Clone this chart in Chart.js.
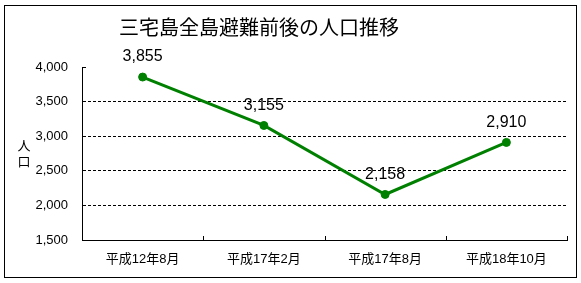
<!DOCTYPE html>
<html lang="ja">
<head>
<meta charset="utf-8">
<title>三宅島全島避難前後の人口推移</title>
<script src="https://cdn.jsdelivr.net/npm/chart.js@4.4.1/dist/chart.umd.min.js"></script>
<style>
    html, body { margin: 0; padding: 0; background: #fff; }
    #wrap { width: 581px; height: 283px; position: relative; }
</style>
</head>
<body>
<div id="wrap"><canvas id="populationChart"></canvas></div>
<script>
const chartTitle = '三宅島全島避難前後の人口推移';
const axisTitle = ['人', '口'];
const periods = ['平成12年8月', '平成17年2月', '平成17年8月', '平成18年10月'];
const population = [3855, 3155, 2158, 2910];
const yTicks = [1500, 2000, 2500, 3000, 3500, 4000];

const fontLatin = '"Liberation Sans", "Noto Sans CJK JP", sans-serif';
const fontJp = '"Noto Sans CJK JP", "Liberation Sans", sans-serif';

var Population = {
    s: {
        canvas: document.getElementById('populationChart')
    },

    init: function () {
        Population.buildChart();
    },

    format: function (v) {
        return Number(v).toLocaleString('en-US');
    },

    // frame, title and the stacked y axis title
    framePlugin: {
        id: 'frame',
        afterDraw: function (chart) {
            let ctx = chart.ctx;
            ctx.save();
            ctx.strokeStyle = '#000';
            ctx.lineWidth = 1;
            ctx.strokeRect(4.5, 5.5, 572, 272);

            ctx.fillStyle = '#000';
            ctx.textAlign = 'center';
            ctx.textBaseline = 'middle';
            ctx.font = '20px ' + fontJp;
            ctx.fillText(chartTitle, 259, 27);

            ctx.font = '13px ' + fontJp;
            let mid = (chart.chartArea.top + chart.chartArea.bottom) / 2;
            ctx.fillText(axisTitle[0], 24, mid - 8);
            ctx.fillText(axisTitle[1], 24, mid + 8);
            ctx.restore();
        }
    },

    // small inward ticks on the category axis
    tickPlugin: {
        id: 'catTicks',
        afterDraw: function (chart) {
            let ctx = chart.ctx;
            let x = chart.scales.x;
            let area = chart.chartArea;
            let marks = [area.left];
            for (let i = 0; i < periods.length - 1; i++) {
                marks.push((x.getPixelForValue(i) + x.getPixelForValue(i + 1)) / 2);
            }
            marks.push(area.right);
            ctx.save();
            ctx.strokeStyle = '#000';
            ctx.lineWidth = 1;
            ctx.beginPath();
            for (let i = 0; i < marks.length; i++) {
                let px = Math.round(marks[i]) + 0.5;
                ctx.moveTo(px, area.bottom);
                ctx.lineTo(px, area.bottom - 4);
            }
            let y0 = Math.round(chart.scales.y.getPixelForValue(4000)) + 0.5;
            ctx.moveTo(area.left, y0);
            ctx.lineTo(area.left + 4, y0);
            ctx.stroke();
            ctx.restore();
        }
    },

    // value labels above the points
    labelPlugin: {
        id: 'valueLabels',
        afterDatasetsDraw: function (chart) {
            let ctx = chart.ctx;
            let meta = chart.getDatasetMeta(0);
            ctx.save();
            ctx.fillStyle = '#000';
            ctx.textAlign = 'center';
            ctx.textBaseline = 'middle';
            ctx.font = '16px ' + fontLatin;
            meta.data.forEach(function (pt, i) {
                ctx.fillText(Population.format(population[i]), pt.x, pt.y - 20);
            });
            ctx.restore();
        }
    },

    buildChart: function () {
        let chartData = {
            labels: periods,
            datasets: [{
                data: population,
                borderColor: '#008000',
                backgroundColor: '#008000',
                borderWidth: 3,
                pointRadius: 4,
                pointBorderWidth: 1,
                pointBackgroundColor: '#008000',
                pointBorderColor: '#008000',
                tension: 0
            }]
        };

        let chartOptions = {
            responsive: true,
            maintainAspectRatio: false,
            animation: false,
            layout: {
                padding: { left: 0, right: 14, top: 67, bottom: 0 }
            },
            plugins: {
                legend: { display: false },
                title: { display: false },
                tooltip: { enabled: false }
            },
            scales: {
                x: {
                    offset: true,
                    grid: { display: false, drawTicks: false },
                    border: { display: true, color: '#000', width: 1 },
                    ticks: {
                        color: '#000',
                        padding: 12,
                        maxRotation: 0,
                        font: { family: fontLatin, size: 13 }
                    },
                    afterFit: function (scale) { scale.height = 43; }
                },
                y: {
                    min: 1500,
                    max: 4000,
                    afterBuildTicks: function (scale) {
                        scale.ticks = yTicks.map(function (v) { return { value: v }; });
                    },
                    grid: {
                        drawTicks: false,
                        lineWidth: 1,
                        color: function (c) {
                            if (!c.tick) return '#000';
                            return (c.tick.value === 4000 || c.tick.value === 1500) ? 'rgba(0,0,0,0)' : '#000';
                        }
                    },
                    border: { display: true, color: '#000', width: 1, dash: [3, 2] },
                    ticks: {
                        color: '#000',
                        padding: 14,
                        font: { family: fontLatin, size: 13 },
                        callback: function (v) { return Population.format(v); }
                    },
                    afterFit: function (scale) { scale.width = 82; }
                }
            }
        };

        new Chart(Population.s.canvas, {
            type: 'line',
            data: chartData,
            options: chartOptions,
            plugins: [Population.framePlugin, Population.tickPlugin, Population.labelPlugin]
        });
    }
};

Population.init();
</script>
</body>
</html>
